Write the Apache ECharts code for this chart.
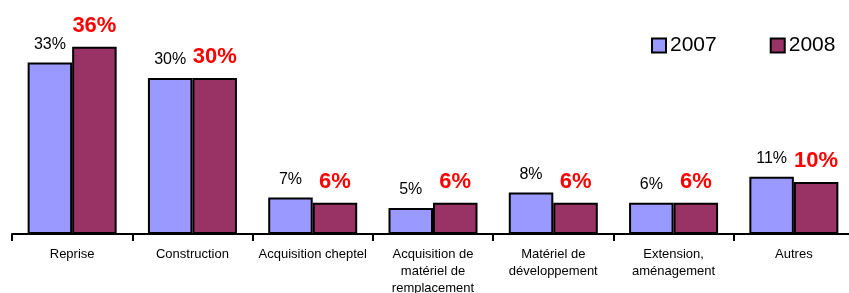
<html>
<head>
<meta charset="utf-8">
<script src="https://cdn.jsdelivr.net/npm/echarts@6/dist/echarts.min.js"></script>
<style>
  body { margin: 0; background: #fff; }
  #container { width: 849px; height: 293px; }
</style>
</head>
<body>
<div id="container"></div>
<script>
const CATEGORIES = [
  'Reprise',
  'Construction',
  'Acquisition cheptel',
  'Acquisition de\nmatériel de\nremplacement',
  'Matériel de\ndéveloppement',
  'Extension,\naménagement',
  'Autres'
];
const SERIES_NAMES = ['2007', '2008'];
const VALUES_2007 = [33, 30, 7, 5, 8, 6, 11];
const VALUES_2008 = [36, 30, 6, 6, 6, 6, 10];

const FONT = '"Liberation Sans", Arial, sans-serif';

let chart = echarts.init(document.getElementById('container'), null, { renderer: 'canvas' });

var option = {
  backgroundColor: '#ffffff',
  animation: false,
  textStyle: { fontFamily: FONT },
  legend: {
    data: SERIES_NAMES,
    icon: 'rect',
    left: 646,
    top: 30,
    itemWidth: 14,
    itemHeight: 14,
    itemGap: 53,
    textStyle: { fontSize: 21, color: '#000', fontFamily: FONT, padding: [0, 0, 0, -1] }
  },
  grid: { left: 12, width: 842, top: 0, bottom: 59, containLabel: false, outerBoundsMode: 'none' },
  xAxis: {
    type: 'category',
    data: CATEGORIES,
    axisLine: { lineStyle: { color: '#000', width: 2 } },
    axisTick: { show: true, length: 7, lineStyle: { color: '#000', width: 2 } },
    axisLabel: {
      interval: 0,
      margin: 12,
      fontSize: 13,
      lineHeight: 17,
      color: '#000',
      fontFamily: FONT
    }
  },
  yAxis: {
    type: 'value',
    min: 0,
    max: 45,
    show: false,
    splitLine: { show: false }
  },
  series: [
    {
      name: '2007',
      type: 'bar',
      data: VALUES_2007,
      barGap: '0%',
      barCategoryGap: '26%',
      itemStyle: { color: '#9999ff', borderColor: '#000', borderWidth: 2 },
      label: {
        show: true,
        position: 'top',
        distance: 10,
        formatter: '{c}%',
        fontSize: 16,
        color: '#000',
        fontFamily: FONT
      }
    },
    {
      name: '2008',
      type: 'bar',
      data: VALUES_2008,
      barGap: '0%',
      barCategoryGap: '26%',
      itemStyle: { color: '#993366', borderColor: '#000', borderWidth: 2 },
      label: {
        show: true,
        position: 'top',
        distance: 10,
        formatter: '{c}%',
        fontSize: 22,
        fontWeight: 'bold',
        color: '#ff0000',
        fontFamily: FONT
      }
    }
  ]
};

chart.setOption(option);
</script>
</body>
</html>
